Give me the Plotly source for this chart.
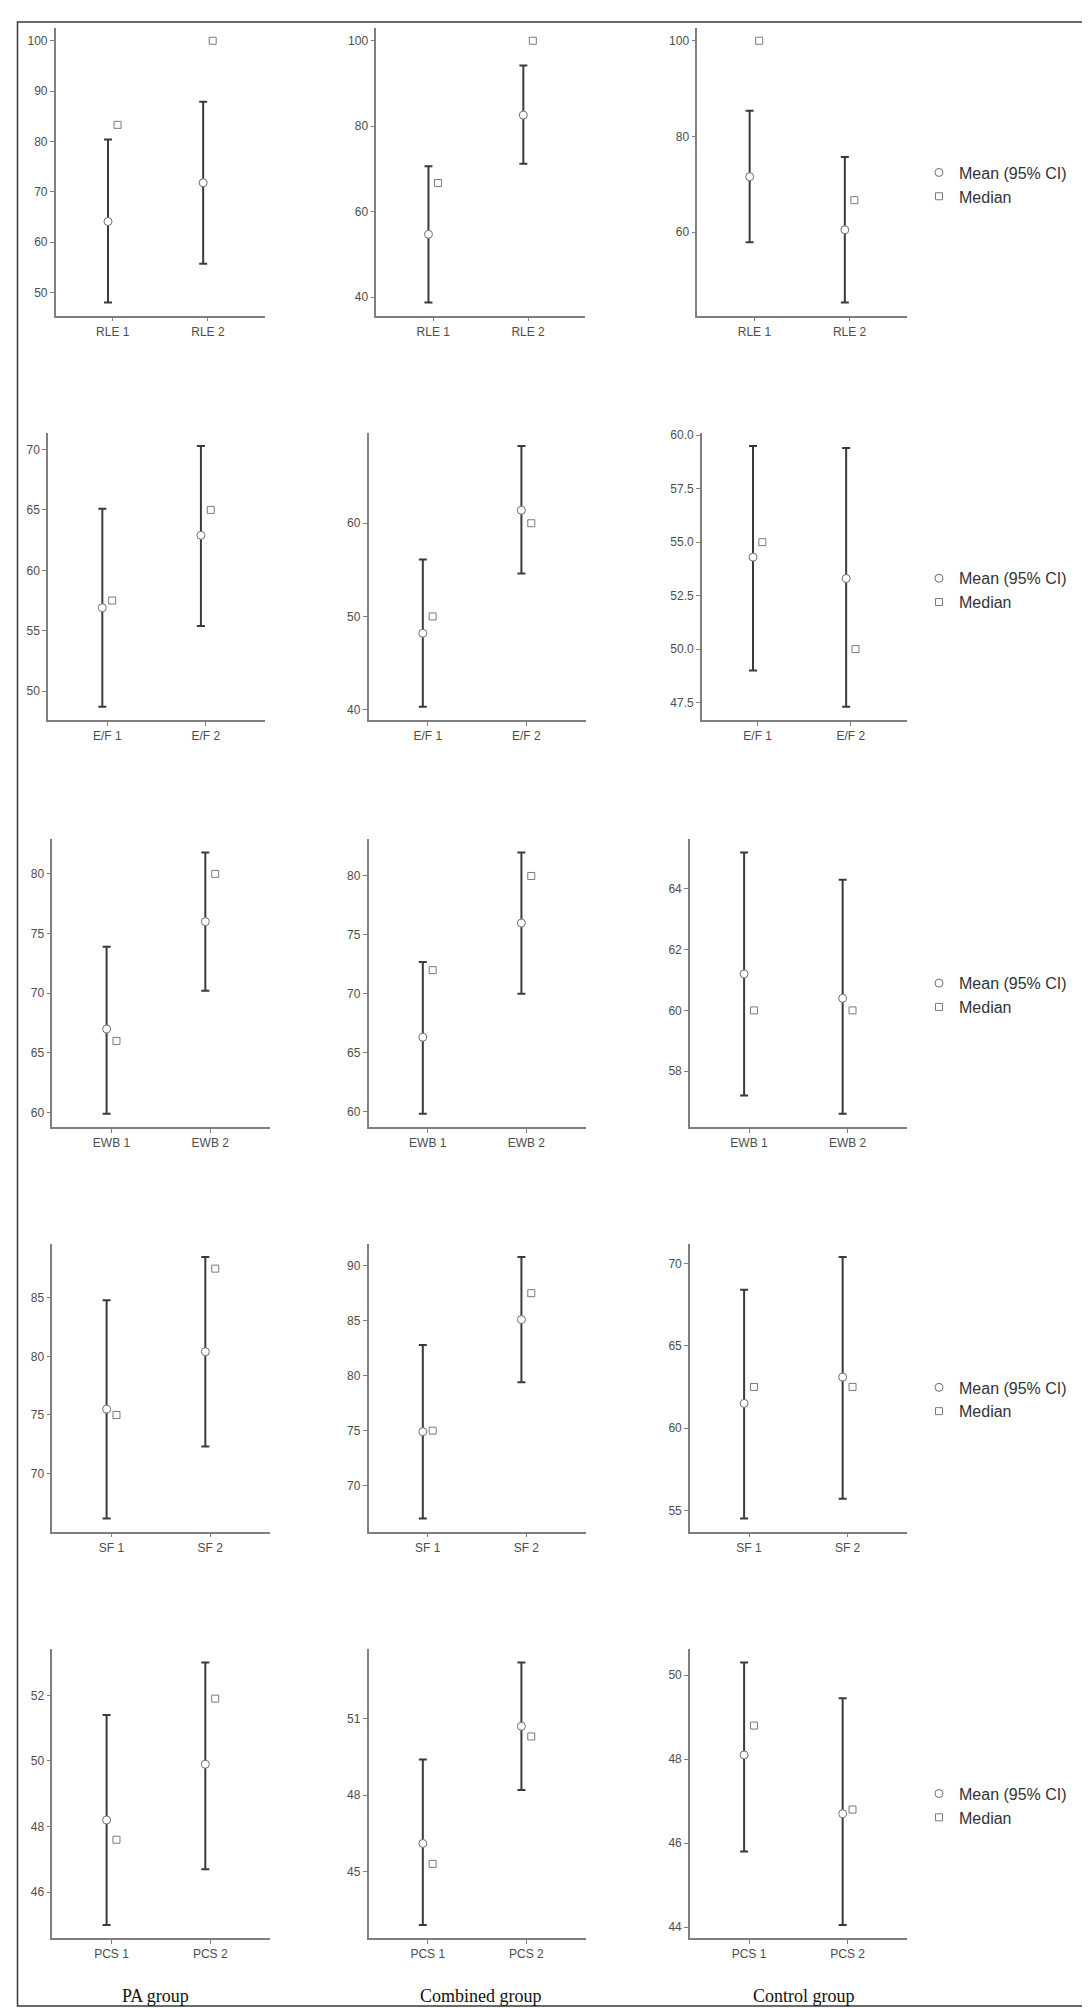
"""Mean (95% CI) and median of five quality-of-life scores at two time
points, one panel per group, laid out as a 5x3 grid of small plots with a
legend to the right of each row and group names under the columns."""

import plotly.graph_objects as go

W, H = 1090, 2008

GROUPS = ["PA group", "Combined group", "Control group"]
MEASURES = ["RLE", "E/F", "EWB", "SF", "PCS"]

# one [time 1, time 2] pair per measure, in MEASURES order
pa_mean = [[64.1, 71.8], [56.9, 62.9], [67.0, 76.0], [75.5, 80.4], [48.2, 49.9]]
pa_lower = [[48.0, 55.7], [48.7, 55.4], [59.9, 70.2], [66.15, 72.3], [45.0, 46.7]]
pa_upper = [[80.4, 87.9], [65.1, 70.3], [73.9, 81.8], [84.8, 88.5], [51.4, 53.0]]
pa_median = [[83.3, 100.0], [57.5, 65.0], [66.0, 80.0], [75.0, 87.5], [47.6, 51.9]]

comb_mean = [[54.7, 82.6], [48.2, 61.4], [66.3, 76.0], [74.9, 85.1], [46.1, 50.7]]
comb_lower = [[38.7, 71.2], [40.3, 54.6], [59.8, 70.0], [67.0, 79.4], [42.9, 48.2]]
comb_upper = [[70.6, 94.2], [56.1, 68.3], [72.7, 82.0], [82.8, 90.8], [49.4, 53.2]]
comb_median = [[66.7, 100.0], [50.0, 60.0], [72.0, 80.0], [75.0, 87.5], [45.3, 50.3]]

ctrl_mean = [[71.6, 60.5], [54.3, 53.3], [61.2, 60.4], [61.5, 63.1], [48.1, 46.7]]
ctrl_lower = [[57.9, 45.3], [49.0, 47.3], [57.2, 56.6], [54.5, 55.7], [45.8, 44.05]]
ctrl_upper = [[85.4, 75.7], [59.5, 59.4], [65.2, 64.3], [68.4, 70.4], [50.3, 49.45]]
ctrl_median = [[100.0, 66.7], [55.0, 50.0], [60.0, 60.0], [62.5, 62.5], [48.8, 46.8]]

# y tick spacing per panel (row = measure, column = group)
tick_step = [[10, 20, 20], [5, 10, 2.5], [5, 5, 2], [5, 5, 5], [2, 3, 2]]
tick_fmt = [["", "", ""], ["", "", ".1f"], ["", "", ""], ["", "", ""], ["", "", ""]]

GROUP_DATA = [
    (pa_mean, pa_lower, pa_upper, pa_median),
    (comb_mean, comb_lower, comb_upper, comb_median),
    (ctrl_mean, ctrl_lower, ctrl_upper, ctrl_median),
]

# panel placement in page pixels (ggarrange did not align the axes)
ROW_TOP = [15.7, 421.7, 829, 1234.3, 1640.7]
ROW_BOTTOM = [304.3, 709.3, 1117, 1522.7, 1930]
COL_LEFT = [[47.7, 368.3, 689.3], [40.1, 360.6, 693.8], [44.3, 360.6, 681.9],
            [44.3, 360.6, 681.9], [44.3, 360.6, 681.9]]
COL_RIGHT = [[257, 577, 898.7], [257, 577.5, 898.7], [261.5, 577.5, 898.7],
             [261.5, 577.5, 898.7], [261.5, 577.5, 898.7]]
LEGEND_MID = [172.9, 579.5, 985.2, 1390.2, 1797.2]
LABEL_X = [147, 473, 796]

DODGE = 0.05
AXIS_GREY = "#7f7f7f"
TICK_FONT = dict(family="Liberation Sans, Arial, sans-serif", size=12, color="#4d4d4d")


def px_x(v):
    return v / W


def px_y(v):
    return 1 - v / H


def padded_range(values):
    lo, hi = min(values), max(values)
    pad = 0.05 * (hi - lo)
    return [lo - pad, hi + pad]


fig = go.Figure()

for r, measure in enumerate(MEASURES):
    cats = [f"{measure} 1", f"{measure} 2"]
    legend_id = "legend" if r == 0 else f"legend{r + 1}"
    for c, (mean, lower, upper, median) in enumerate(GROUP_DATA):
        n = r * 3 + c + 1
        suffix = "" if n == 1 else str(n)
        m, lo, up, med = mean[r], lower[r], upper[r], median[r]
        xs = list(range(len(cats)))
        last_col = c == len(GROUPS) - 1

        fig.add_trace(go.Scatter(
            x=[i - DODGE for i in xs], y=m, mode="markers",
            name="Mean (95% CI)", legend=legend_id, showlegend=last_col,
            marker=dict(symbol="circle", size=8, color="white",
                        line=dict(color="#6e6e6e", width=1)),
            error_y=dict(type="data", symmetric=False,
                         array=[u - v for u, v in zip(up, m)],
                         arrayminus=[v - l for v, l in zip(m, lo)],
                         color="#3a3a3a", thickness=2, width=4),
            xaxis="x" + suffix, yaxis="y" + suffix, hoverinfo="y",
        ))
        fig.add_trace(go.Scatter(
            x=[i + DODGE for i in xs], y=med, mode="markers",
            name="Median", legend=legend_id, showlegend=last_col,
            marker=dict(symbol="square-open", size=7, color="#7a7a7a",
                        line=dict(width=1)),
            xaxis="x" + suffix, yaxis="y" + suffix, hoverinfo="y",
        ))

        axis_common = dict(
            showline=True, linecolor=AXIS_GREY, linewidth=1.5,
            ticks="outside", ticklen=4, tickwidth=1.2, tickcolor=AXIS_GREY,
            showgrid=False, zeroline=False, tickfont=TICK_FONT, fixedrange=True,
        )
        fig.layout["xaxis" + suffix] = dict(
            axis_common,
            domain=[px_x(COL_LEFT[r][c]), px_x(COL_RIGHT[r][c])],
            anchor="y" + suffix, range=[-0.6, 1.6],
            tickvals=xs, ticktext=cats,
        )
        fig.layout["yaxis" + suffix] = dict(
            axis_common,
            domain=[px_y(ROW_BOTTOM[r]), px_y(ROW_TOP[r])],
            anchor="x" + suffix,
            range=padded_range(lo + up + med),
            tick0=0, dtick=tick_step[r][c], tickformat=tick_fmt[r][c],
        )

    fig.layout[legend_id] = dict(
        x=px_x(911), xanchor="left", y=px_y(LEGEND_MID[r]), yanchor="middle",
        font=dict(family="Liberation Sans, Arial, sans-serif", size=16, color="#333333"),
        bgcolor="rgba(0,0,0,0)", borderwidth=0, tracegroupgap=0,
    )

for c, group in enumerate(GROUPS):
    fig.add_annotation(
        x=px_x(LABEL_X[c]), y=px_y(1988), xref="paper", yref="paper",
        text=group, showarrow=False, xanchor="center", yanchor="middle",
        font=dict(family="Liberation Serif, Times New Roman, serif", size=18, color="#111111"),
    )

# frame round the whole figure
fig.add_shape(type="rect", xref="paper", yref="paper",
              x0=px_x(9.5), x1=px_x(1081), y0=px_y(1998), y1=px_y(10),
              line=dict(color="#3a3a3a", width=1.5))

fig.update_layout(
    width=W, height=H,
    margin=dict(l=0, r=0, t=0, b=0),
    paper_bgcolor="white", plot_bgcolor="white",
    font=dict(family="Liberation Sans, Arial, sans-serif"),
)

fig.write_html("out.html")
